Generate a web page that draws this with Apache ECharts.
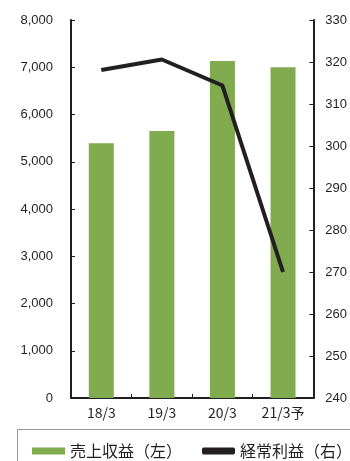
<!DOCTYPE html>
<html>
<head>
<meta charset="utf-8">
<script src="https://cdn.jsdelivr.net/npm/echarts@6/dist/echarts.min.js"></script>
<style>
html,body{margin:0;padding:0;background:#fff;}
#main{width:350px;height:461px;}
</style>
</head>
<body>
<div id="main"></div>
<script>
// 決算期
var categories = ['18/3', '19/3', '20/3', '21/3予'];
// 売上収益（左軸）
var salesValues = [5390, 5650, 7130, 7000];
// 経常利益（右軸）
var profitValues = [318.1, 320.6, 314.4, 270];
var leftTicks = [0, 8000, 1000];
var rightTicks = [240, 330, 10];

var ink = '#231f20';

var option = {
	animation: false,
	grid: {
		left: 71,
		right: 34,
		top: 20,
		bottom: 63
	},
	legend: {
		left: 32,
		top: 443,
		padding: 0,
		width: 340,
		itemWidth: 33,
		itemHeight: 7,
		itemGap: 20,
		textStyle: {
			color: ink,
			fontSize: 16,
			fontFamily: 'Noto Sans CJK JP'
		},
		data: [
			{name: '売上収益（左）', icon: 'rect'},
			{name: '経常利益（右）', icon: 'roundRect'}
		]
	},
	graphic: [{
		type: 'rect',
		shape: {x: 17.5, y: 429.5, width: 345, height: 60},
		style: {fill: 'none', stroke: '#9a9a9a', lineWidth: 1},
		silent: true
	}],
	xAxis: {
		type: 'category',
		data: categories,
		axisLine: {lineStyle: {color: ink, width: 2}},
		axisTick: {show: true, inside: true, length: 4, lineStyle: {color: ink, width: 1}},
		axisLabel: {color: ink, fontSize: 14, margin: 8, fontFamily: 'Noto Sans CJK JP'}
	},
	yAxis: [{
		type: 'value',
		min: leftTicks[0],
		max: leftTicks[1],
		interval: leftTicks[2],
		axisLine: {show: true, lineStyle: {color: ink, width: 2}},
		axisTick: {show: true, inside: true, length: 4, lineStyle: {color: ink, width: 1}},
		splitLine: {show: false},
		axisLabel: {
			color: ink,
			fontSize: 13,
			margin: 18,
			fontFamily: 'Liberation Sans',
			formatter: function (v) { return v.toLocaleString('en-US'); }
		}
	}, {
		type: 'value',
		position: 'right',
		min: rightTicks[0],
		max: rightTicks[1],
		interval: rightTicks[2],
		axisLine: {show: true, lineStyle: {color: ink, width: 2}},
		axisTick: {show: true, inside: true, length: 4, lineStyle: {color: ink, width: 1}},
		splitLine: {show: false},
		axisLabel: {color: ink, fontSize: 13, margin: 12, fontFamily: 'Liberation Sans'}
	}],
	series: [{
		name: '売上収益（左）',
		type: 'bar',
		yAxisIndex: 0,
		barWidth: 25,
		itemStyle: {color: '#80ab4f'},
		data: salesValues
	}, {
		name: '経常利益（右）',
		type: 'line',
		yAxisIndex: 1,
		symbol: 'none',
		lineStyle: {color: ink, width: 4},
		itemStyle: {color: ink},
		data: profitValues
	}]
};

var myChart = echarts.init(document.getElementById('main'));
myChart.setOption(option);
</script>
</body>
</html>
